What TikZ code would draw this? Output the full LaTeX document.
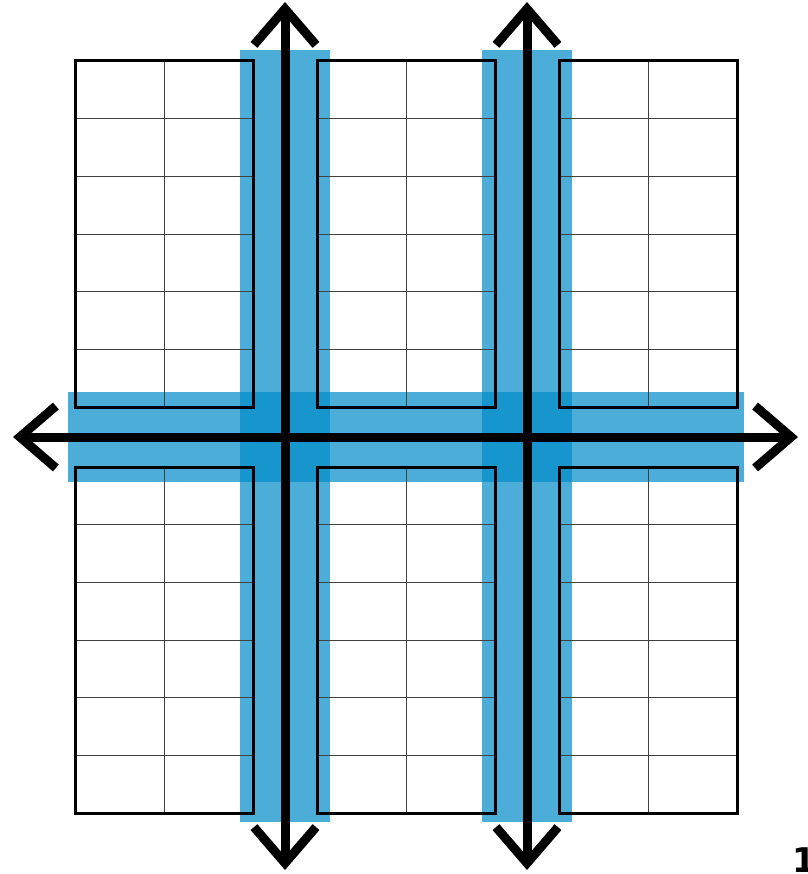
\documentclass[tikz,border=0pt]{standalone}
\usepackage{fontspec}
\newfontfamily\numfont{DejaVu Sans}
\usetikzlibrary{arrows.meta}
\definecolor{bandblue}{RGB}{0,140,200}
\tikzset{
  band/.style  = {fill=bandblue, fill opacity=0.7},
  panel/.style = {draw, line width=3pt},
  cell/.style  = {draw=black!75, line width=0.9pt},
  axis/.style  = {line width=9pt, >={Straight Barb[sharp,length=36pt,width=62pt]}, <->},
  pagenum/.style = {font=\numfont\bfseries\fontsize{34}{34}\selectfont, inner sep=0pt},
}

\begin{document}
\begin{tikzpicture}[x=1pt, y=-1pt]

  \useasboundingbox (0,0) rectangle (807,874);

  % blue strips behind the axes
  \fill[band] (240,50) rectangle (330,822);
  \fill[band] (482,50) rectangle (572,822);
  \fill[band] (68,392) rectangle (744,482);

  % six panels, 2 x 6 cells each
  \foreach \px in {75,317,559} {
    \foreach \py in {61,467} {
      \draw[cell] (\px+89,\py) -- (\px+89,\py+346);
      \foreach \k in {1,...,5}
        \draw[cell] (\px,\py+\k*57.67) -- ++(178,0);
      \draw[panel] (\px,\py) rectangle ++(178,346);
    }
  }

  % axes
  \coordinate (W)  at (13,437);
  \coordinate (E)  at (798,437);
  \coordinate (N1) at (285,2);
  \coordinate (S1) at (285,870);
  \coordinate (N2) at (527,2);
  \coordinate (S2) at (527,870);

  \draw[axis] (W) -- (E);
  \draw[axis] (N1) -- (S1);
  \draw[axis] (N2) -- (S2);

  \node[pagenum, anchor=base west] (num) at (792,872) {1};

\end{tikzpicture}
\end{document}
